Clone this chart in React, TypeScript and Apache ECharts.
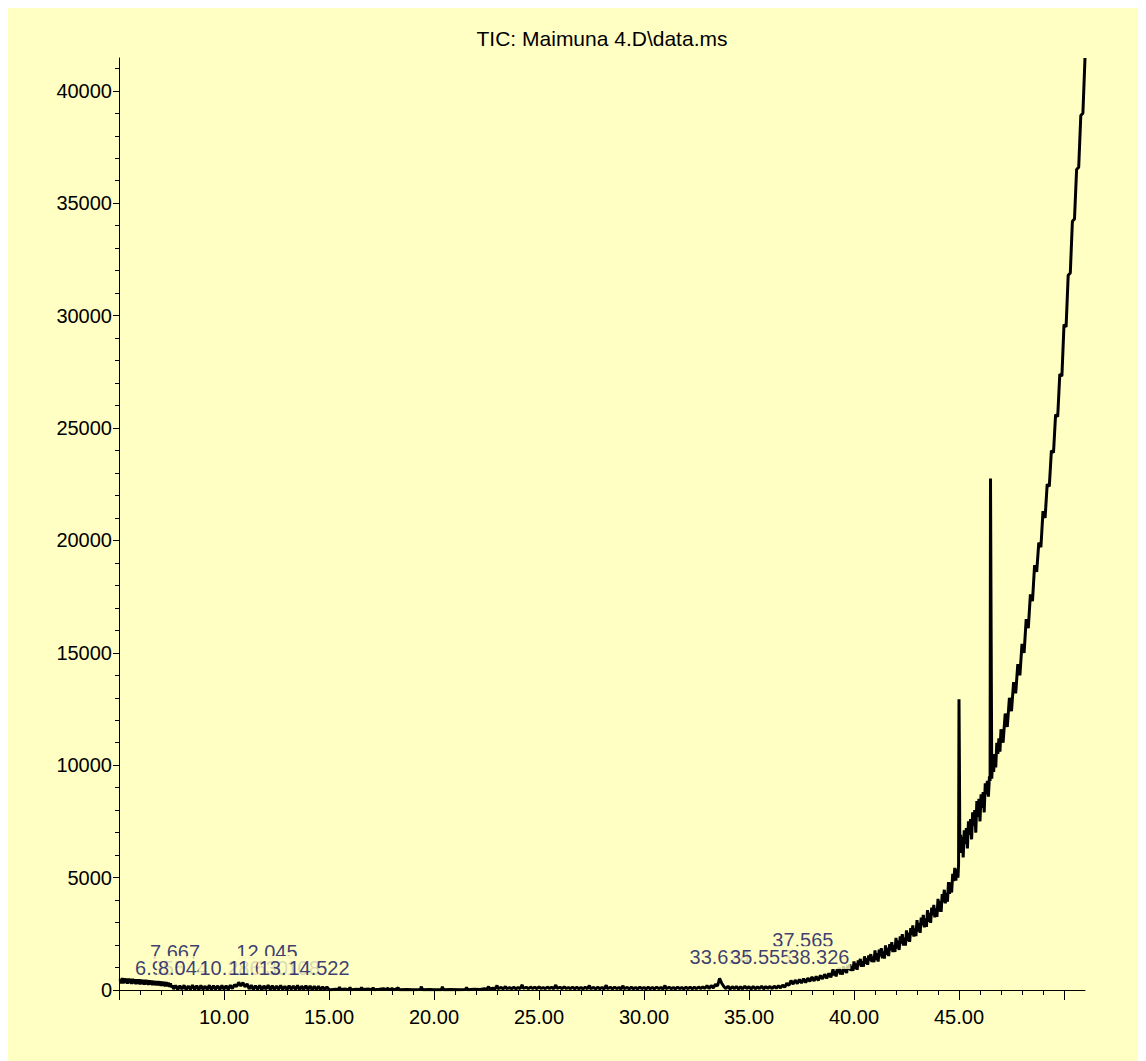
import React, { useEffect, useRef } from 'react';
import * as echarts from 'echarts';

// ---------- data (retention time in min, abundance) ----------
const earlyWedge: [number, number][] = [
  [5.05, 480], [5.1, 300], [5.15, 530], [5.2, 290], [5.25, 525], [5.3, 310], [5.35, 515], [5.4, 280],
  [5.45, 510], [5.5, 300], [5.55, 500], [5.6, 270], [5.65, 495], [5.7, 290], [5.75, 485], [5.8, 260],
  [5.85, 480], [5.9, 270], [5.95, 470], [6.0, 250], [6.05, 465], [6.1, 260], [6.15, 455], [6.2, 240],
  [6.25, 450], [6.3, 250], [6.35, 440], [6.4, 230], [6.45, 430], [6.5, 235], [6.55, 420], [6.6, 215],
  [6.65, 410], [6.7, 220], [6.75, 400], [6.8, 200], [6.85, 390], [6.9, 205], [6.95, 380], [7.0, 185],
  [7.05, 370], [7.1, 180], [7.15, 360], [7.2, 165], [7.25, 350], [7.3, 160], [7.35, 330], [7.4, 140],
  [7.45, 300], [7.5, 120], [7.55, 200], [7.6, 40],
];

const baselineEarly: [number, number][] = [
  [7.7, 200], [7.8, 20], [7.9, 190], [8.0, 40], [8.1, 210], [8.2, 10], [8.3, 180], [8.4, 30], [8.5, 220],
  [8.6, 20], [8.7, 190], [8.8, 10], [8.9, 200], [9.0, 30], [9.1, 170], [9.2, 20], [9.3, 210], [9.4, 10],
  [9.5, 190], [9.6, 40], [9.7, 180], [9.8, 20], [9.9, 200], [10.0, 30], [10.1, 190], [10.2, 20], [10.3, 210],
  [10.4, 60], [10.5, 240], [10.6, 150], [10.7, 340], [10.8, 180], [10.9, 330], [11.0, 140], [11.1, 270],
  [11.2, 50], [11.3, 210], [11.4, 20], [11.5, 190], [11.6, 30], [11.7, 200], [11.8, 10], [11.9, 180],
  [12.0, 40], [12.1, 210], [12.2, 20], [12.3, 190], [12.4, 10], [12.5, 180], [12.6, 30], [12.7, 200],
  [12.8, 20], [12.9, 170], [13.0, 10], [13.1, 190], [13.2, 30], [13.3, 180], [13.4, 20], [13.5, 200],
  [13.6, 10], [13.7, 170], [13.8, 30], [13.9, 190], [14.0, 20], [14.1, 180], [14.2, 10], [14.3, 160],
  [14.4, 20], [14.5, 170], [14.6, 10], [14.7, 140], [14.8, 20], [14.9, 130], [15.0, 20],
];

const baselineMid: [number, number][] = [
  [15.1, 10], [15.3, 30], [15.45, 20], [15.5, 130], [15.55, 20], [15.8, 40], [15.95, 10], [16.0, 120],
  [16.05, 10], [16.3, 30], [16.5, 20], [16.55, 110], [16.6, 20], [16.9, 40], [17.05, 10], [17.1, 100],
  [17.15, 10], [17.4, 30], [17.6, 60], [17.7, 20], [17.8, 70], [17.9, 10], [18.0, 60], [18.1, 10],
  [18.3, 90], [18.35, 10], [18.7, 20], [19.0, 10], [19.35, 20], [19.4, 150], [19.45, 10], [19.8, 20],
  [20.0, 10], [20.35, 10], [20.4, 140], [20.45, 10], [20.8, 20], [21.2, 10], [21.5, 20], [21.55, 120],
  [21.6, 10], [21.9, 30], [22.2, 20], [22.4, 60], [22.5, 30], [22.6, 150], [22.65, 40], [22.8, 80],
  [22.9, 40], [23.0, 200], [23.05, 60], [23.2, 110], [23.3, 50], [23.4, 160], [23.45, 60], [23.6, 100],
  [23.7, 60], [23.8, 120], [23.9, 50], [24.0, 110], [24.1, 60], [24.2, 230], [24.25, 70], [24.4, 120],
  [24.5, 60], [24.6, 130], [24.7, 70], [24.8, 120], [24.9, 60], [25.0, 140], [25.1, 70], [25.2, 110],
  [25.3, 60], [25.4, 130], [25.5, 70], [25.6, 120], [25.7, 60], [25.8, 220], [25.85, 70], [26.0, 120],
  [26.1, 60], [26.2, 140], [26.3, 70], [26.4, 110], [26.5, 60], [26.6, 130], [26.7, 50], [26.8, 120],
  [26.9, 60], [27.0, 110], [27.1, 50], [27.2, 120], [27.3, 60], [27.4, 200], [27.45, 60], [27.6, 110],
  [27.7, 50], [27.8, 120], [27.9, 60], [28.0, 110], [28.1, 50], [28.2, 210], [28.25, 60], [28.4, 120],
  [28.5, 50], [28.6, 130], [28.7, 60], [28.8, 110], [28.9, 50], [29.0, 190], [29.05, 60], [29.2, 110],
  [29.3, 50], [29.4, 120], [29.5, 60], [29.6, 110], [29.7, 50], [29.8, 130], [29.9, 60], [30.0, 110],
  [30.1, 50], [30.2, 120], [30.3, 60], [30.4, 110], [30.5, 50], [30.6, 130], [30.7, 60], [30.8, 110],
  [30.9, 50], [31.0, 200], [31.05, 60], [31.2, 120], [31.3, 60], [31.4, 110], [31.5, 50], [31.6, 130],
  [31.7, 60], [31.8, 110], [31.9, 50], [32.0, 120], [32.1, 60], [32.2, 130], [32.3, 50], [32.4, 120],
  [32.5, 60], [32.6, 130], [32.7, 70], [32.8, 140], [32.9, 70],
];

const preRise: [number, number][] = [
  [33.0, 190], [33.1, 60], [33.2, 200], [33.3, 90], [33.4, 250], [33.5, 180], [33.6, 520], [33.7, 300],
  [33.8, 160], [33.9, 60], [34.0, 170], [34.1, 40], [34.2, 150], [34.3, 60], [34.4, 160], [34.5, 40],
  [34.6, 140], [34.7, 50], [34.8, 170], [34.9, 60], [35.0, 150], [35.1, 40], [35.2, 160], [35.3, 50],
  [35.4, 140], [35.5, 60], [35.6, 170], [35.7, 50], [35.8, 150], [35.9, 70], [36.0, 160], [36.1, 60],
  [36.2, 170], [36.3, 80], [36.4, 190], [36.5, 90], [36.6, 220], [36.7, 120], [36.8, 300], [36.9, 200],
  [37.0, 420], [37.1, 260], [37.2, 440], [37.3, 280], [37.4, 470], [37.5, 310], [37.6, 500], [37.7, 330],
  [37.8, 530], [37.9, 380], [38.0, 580], [38.1, 400], [38.2, 610], [38.3, 420], [38.4, 650], [38.5, 490],
  [38.6, 700], [38.7, 520], [38.8, 740], [38.9, 560],
];

const bleedRise: [number, number][] = [
  [39.0, 920], [39.05, 646], [39.1, 840], [39.15, 602], [39.2, 940], [39.25, 756], [39.3, 986], [39.35, 694],
  [39.4, 888], [39.45, 686], [39.5, 1060], [39.55, 789], [39.6, 986], [39.65, 751], [39.7, 1092], [39.75, 911],
  [39.8, 1144], [39.85, 855], [39.9, 1052], [39.95, 853], [40.0, 1270], [40.05, 941], [40.1, 1184], [40.15, 899],
  [40.2, 1318], [40.25, 1099], [40.3, 1386], [40.35, 1035], [40.4, 1278], [40.45, 1037], [40.5, 1500], [40.55, 1168],
  [40.6, 1408], [40.65, 1120], [40.7, 1536], [40.75, 1314], [40.8, 1598], [40.85, 1244], [40.9, 1484], [40.95, 1240],
  [41.0, 1760], [41.05, 1334], [41.1, 1636], [41.15, 1266], [41.2, 1792], [41.25, 1506], [41.3, 1864], [41.35, 1410],
  [41.4, 1712], [41.45, 1398], [41.5, 1980], [41.55, 1562], [41.6, 1872], [41.65, 1510], [41.7, 2044], [41.75, 1766],
  [41.8, 2132], [41.85, 1686], [41.9, 1996], [41.95, 1690], [42.0, 2320], [42.05, 1841], [42.1, 2194], [42.15, 1779],
  [42.2, 2388], [42.25, 2069], [42.3, 2486], [42.35, 1975], [42.4, 2328], [42.45, 1977], [42.5, 2650], [42.55, 2181],
  [42.6, 2544], [42.65, 2139], [42.7, 2758], [42.75, 2449], [42.8, 2876], [42.85, 2375], [42.9, 2738], [42.95, 2397],
  [43.0, 3110], [43.05, 2594], [43.1, 2988], [43.15, 2542], [43.2, 3216], [43.25, 2875], [43.3, 3339], [43.35, 2788],
  [43.4, 3182], [43.45, 2806], [43.5, 3550], [43.55, 3035], [43.6, 3430], [43.65, 2985], [43.7, 3660], [43.75, 3320],
  [43.8, 3785], [43.85, 3235], [43.9, 3630], [43.95, 3255], [44.0, 4050], [44.05, 3485], [44.1, 3960], [44.15, 3475],
  [44.2, 4270], [44.25, 3905], [44.3, 4460], [44.35, 3855], [44.4, 4330], [44.45, 3925], [44.5, 4800], [44.55, 4272],
  [44.6, 4785], [44.65, 4337], [44.7, 5170], [44.75, 4842], [44.8, 5435], [44.85, 4867], [44.9, 5380], [44.95, 5000],
  [44.98, 5600],
];

const spikeRegion: [number, number][] = [
  [45.0, 12930], [45.02, 10040], [45.04, 6200], [45.08, 6900], [45.12, 6100], [45.16, 6800], [45.2, 5900],
  [45.25, 7100], [45.3, 6500], [45.35, 7200], [45.4, 6300], [45.45, 7500], [45.5, 6900], [45.55, 7600],
  [45.6, 6700], [45.65, 7900], [45.7, 7300], [45.75, 8000], [45.8, 7000], [45.85, 8400], [45.9, 7700],
  [45.95, 8500], [46.0, 7500], [46.05, 8700], [46.1, 8100], [46.15, 8800], [46.2, 7900], [46.25, 9200],
  [46.3, 8700], [46.35, 9300], [46.4, 8600], [46.45, 9500], [46.48, 9300], [46.5, 22750], [46.53, 15950],
  [46.56, 9400],
];

const steepTail: [number, number][] = [
  [46.6, 10200], [46.65, 9700], [46.7, 10500], [46.75, 9900], [46.8, 11000], [46.85, 10500], [46.9, 11200],
  [46.95, 10600], [47.0, 11600], [47.1, 11000], [47.2, 12300], [47.3, 11700], [47.4, 13000], [47.5, 12400],
  [47.6, 13700], [47.7, 13200], [47.8, 14500], [47.9, 14000], [48.0, 15400], [48.1, 15000], [48.2, 16500],
  [48.3, 16100], [48.4, 17600], [48.5, 17300], [48.6, 18900], [48.7, 18600], [48.8, 19900], [48.9, 19700],
  [49.0, 21300], [49.1, 21000], [49.2, 22500], [49.3, 22400], [49.4, 24000], [49.5, 23900], [49.6, 25600],
  [49.7, 25500], [49.8, 27400], [49.9, 27300], [50.0, 29600], [50.1, 29500], [50.2, 31800], [50.3, 31900],
  [50.4, 34200], [50.5, 34300], [50.6, 36500], [50.7, 36600], [50.8, 38900], [50.9, 39000], [51.0, 41460],
];

// integrated peak retention times (label rows)
const peaksUpperLeft = [7.667, 12.045];
const peaksLowerLeft = [6.955, 8.044, 10.286, 11.63, 13.108, 14.522];
const peaksUpperRight = [37.565];
const peaksLowerRight = [33.624, 35.555, 38.326];

const TITLE = 'TIC: Maimuna 4.D\\data.ms';

// ---------- styles / layout ----------
const BG = '#FFFFC4';
const LABEL_BLUE = '#0a0a5a';
const FONT = '"Liberation Sans", Arial, Helvetica, sans-serif';
const X_MIN = 5;
const X_MAX = 51;
const Y_MAX = 41460;
const PLOT_LEFT = 111;
const PLOT_TOP = 50;
const PLOT_W = 966;
const PLOT_H = 932;
const ROW_LOWER_LEFT = 1000;
const ROW_UPPER_LEFT = 1690;
const ROW_LOWER_RIGHT = 1446;
const ROW_UPPER_RIGHT = 2224;

const ticData: [number, number][] = [
  ...earlyWedge, ...baselineEarly, ...baselineMid, ...preRise, ...bleedRise, ...spikeRegion, ...steepTail,
];

function labelSeries(rts: number[], row: number, z: number) {
  return {
    type: 'scatter',
    xAxisIndex: 0,
    yAxisIndex: 0,
    z,
    symbolSize: 1,
    itemStyle: { color: 'rgba(0,0,0,0)' },
    silent: true,
    data: rts.map((t) => [t, row]),
    label: {
      show: true,
      position: 'inside',
      formatter: (p: any) => Number(p.value[0]).toFixed(3),
      fontSize: 20,
      fontFamily: FONT,
      color: LABEL_BLUE,
      backgroundColor: BG,
      lineHeight: 18,
      padding: [5, 1, 0, 1],
    },
  };
}

export default function App() {
  const ref = useRef<HTMLDivElement>(null);
  useEffect(() => {
    document.body.style.overflow = 'hidden';
    const chart = echarts.init(ref.current!, null, { renderer: 'svg' });
    const hB = (PLOT_H * 41000) / Y_MAX;
    const hC = (PLOT_H * 40000) / Y_MAX;
    const wB = (PLOT_W * (50 - X_MIN)) / (X_MAX - X_MIN);
    const bottomY = PLOT_TOP + PLOT_H;
    const black = { color: '#000', width: 1 };
    chart.setOption({
      animation: false,
      backgroundColor: BG,
      textStyle: { fontFamily: FONT },
      graphic: [
        {
          type: 'text',
          x: PLOT_LEFT + PLOT_W / 2,
          y: 20,
          style: {
            text: TITLE,
            fontSize: 21,
            fontFamily: FONT,
            fill: '#000',
            textAlign: 'center',
            textVerticalAlign: 'top',
          },
        },
      ],
      grid: [
        { left: PLOT_LEFT, top: PLOT_TOP, width: PLOT_W, height: PLOT_H },
        { left: PLOT_LEFT, top: bottomY - hB, width: wB, height: hB },
        { left: PLOT_LEFT, top: bottomY - hC, width: wB, height: hC },
      ],
      xAxis: [
        {
          gridIndex: 0,
          type: 'value',
          min: X_MIN,
          max: X_MAX,
          axisLine: { show: true, onZero: false, lineStyle: black },
          axisTick: { show: false },
          axisLabel: { show: false },
          splitLine: { show: false },
        },
        {
          gridIndex: 1,
          type: 'value',
          min: X_MIN,
          max: 50,
          interval: 5,
          axisLine: { show: false },
          axisTick: { show: true, length: 10, lineStyle: black },
          minorTick: { show: true, splitNumber: 5, length: 5, lineStyle: black },
          axisLabel: {
            show: true,
            fontSize: 20,
            fontFamily: FONT,
            color: '#000',
            margin: 17,
            formatter: (v: number) => (v >= 10 && v <= 45 ? v.toFixed(2) : ''),
          },
          splitLine: { show: false },
          minorSplitLine: { show: false },
        },
        { gridIndex: 2, type: 'value', min: X_MIN, max: 50, show: false },
      ],
      yAxis: [
        {
          gridIndex: 0,
          type: 'value',
          min: 0,
          max: Y_MAX,
          axisLine: { show: true, onZero: false, lineStyle: black },
          axisTick: { show: false },
          axisLabel: { show: false },
          splitLine: { show: false },
        },
        {
          gridIndex: 1,
          type: 'value',
          min: 0,
          max: 41000,
          interval: 1000,
          axisLine: { show: false },
          axisTick: { show: true, length: 4, lineStyle: black },
          axisLabel: {
            show: true,
            fontSize: 20,
            fontFamily: FONT,
            color: '#000',
            margin: 7,
            formatter: (v: number) => (v % 5000 === 0 ? String(v) : ''),
          },
          splitLine: { show: false },
        },
        {
          gridIndex: 2,
          type: 'value',
          min: 0,
          max: 40000,
          interval: 5000,
          axisLine: { show: false },
          axisTick: { show: true, length: 6, lineStyle: black },
          axisLabel: { show: false },
          splitLine: { show: false },
        },
      ],
      series: [
        {
          type: 'line',
          xAxisIndex: 0,
          yAxisIndex: 0,
          data: ticData,
          showSymbol: false,
          symbol: 'none',
          lineStyle: { color: '#000', width: 3 },
          z: 2,
          silent: true,
        },
        labelSeries(peaksUpperLeft, ROW_UPPER_LEFT, 5),
        labelSeries(peaksLowerLeft, ROW_LOWER_LEFT, 6),
        labelSeries(peaksUpperRight, ROW_UPPER_RIGHT, 5),
        labelSeries(peaksLowerRight, ROW_LOWER_RIGHT, 6),
      ],
    });
    return () => chart.dispose();
  }, []);
  return (
    <div
      ref={ref}
      style={{ position: 'fixed', left: 8, top: 8, width: 1130, height: 1053, background: BG }}
    />
  );
}
